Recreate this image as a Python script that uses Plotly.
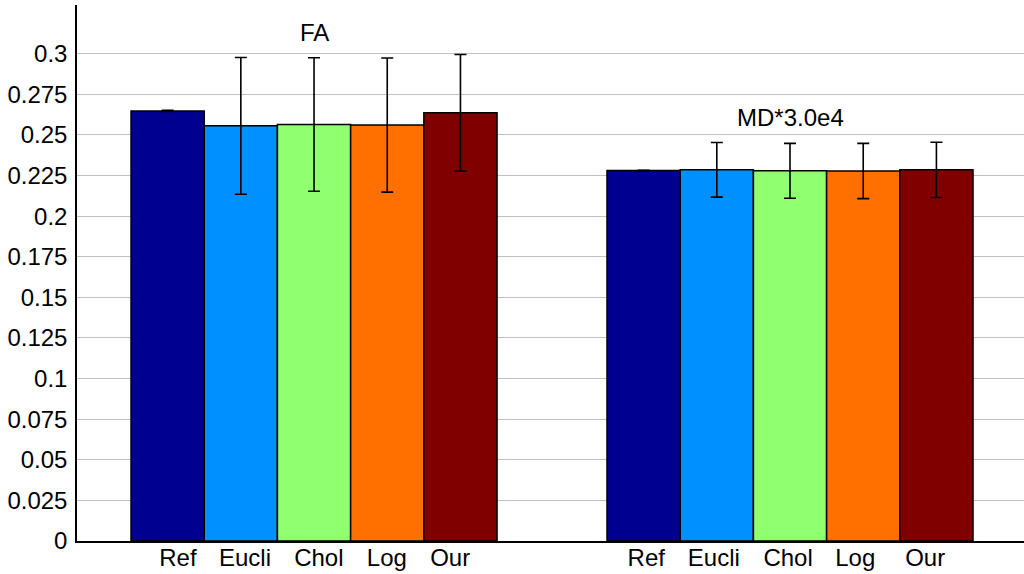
import plotly.graph_objects as go

groups = ["FA", "MD*3.0e4"]
methods = ["Ref", "Eucli", "Chol", "Log", "Our"]
colors = ["#000090", "#0090FF", "#90FF70", "#FF7000", "#800000"]

# values per method: [FA, MD*3.0e4]
means = {
    "Ref":   [0.2648, 0.2281],
    "Eucli": [0.2556, 0.2285],
    "Chol":  [0.2564, 0.2279],
    "Log":   [0.2561, 0.2278],
    "Our":   [0.2636, 0.2285],
}
errs = {
    "Ref":   [0.0004, 0.0002],
    "Eucli": [0.0421, 0.0168],
    "Chol":  [0.0411, 0.0169],
    "Log":   [0.0413, 0.0170],
    "Our":   [0.0359, 0.0170],
}
y_ticks = [0, 0.025, 0.05, 0.075, 0.1, 0.125, 0.15, 0.175, 0.2, 0.225, 0.25, 0.275, 0.3]
y_tick_labels = ["0", "0.025", "0.05", "0.075", "0.1", "0.125", "0.15", "0.175",
                 "0.2", "0.225", "0.25", "0.275", "0.3"]
group_title_y = [0.313, 0.261]
# label positions relative to each group's centre (one list per group)
label_offsets = [[-0.286, -0.145, 0.010, 0.153, 0.286],
                 [-0.302, -0.160, -0.004, 0.137, 0.284]]

FONT = "Liberation Sans, Arial, sans-serif"
xg = [1, 2]
fig = go.Figure()
for m, c in zip(methods, colors):
    fig.add_trace(go.Bar(
        x=xg, y=means[m], name=m,
        marker=dict(color=c, line=dict(color="black", width=1.5)),
        error_y=dict(type="data", array=errs[m], color="black", thickness=1.6, width=6),
    ))

tickvals, ticktext = [], []
for g, offs in zip(xg, label_offsets):
    for m, off in zip(methods, offs):
        tickvals.append(g + off)
        ticktext.append(m)

for g, t, ty in zip(xg, groups, group_title_y):
    fig.add_annotation(x=g, y=ty, xref="x", yref="y", text=t, showarrow=False,
                       font=dict(size=24, color="black", family=FONT))

fig.update_layout(
    width=1024, height=574,
    margin=dict(l=77, r=0, t=5, b=33),
    paper_bgcolor="white", plot_bgcolor="white",
    barmode="group", bargap=0.231, bargroupgap=0,
    showlegend=False,
    font=dict(family=FONT, size=24, color="black"),
    xaxis=dict(range=[0.502, 2.4916], tickvals=tickvals, ticktext=ticktext,
               showgrid=False, zeroline=False, showline=True, linecolor="black",
               linewidth=1.5, ticks="", tickfont=dict(size=24, family=FONT),
               ticklabelstandoff=-6, automargin=False),
    yaxis=dict(range=[0, 0.33], tickvals=y_ticks, ticktext=y_tick_labels, showgrid=True,
               gridcolor="#c0c0c0", gridwidth=1,
               zeroline=False, showline=True, linecolor="black", linewidth=1.5,
               ticks="", tickfont=dict(size=24, family=FONT), ticklabelstandoff=3,
               automargin=False),
)

fig.write_html("out.html", config={"displayModeBar": False},
               post_script="document.body.style.margin='0';document.body.style.overflow='hidden';")
